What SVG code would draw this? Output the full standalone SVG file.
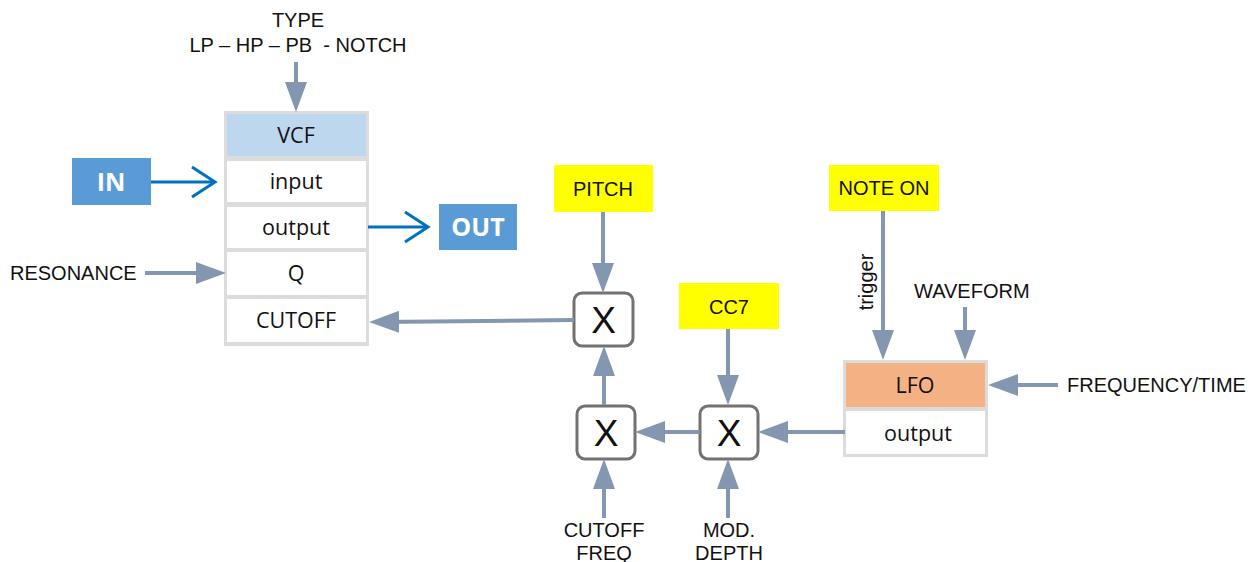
<svg xmlns="http://www.w3.org/2000/svg" width="1258" height="562" viewBox="0 0 1258 562">
  <style>
    .lbl { font-family: "Liberation Sans", Arial, sans-serif; font-size: 20px; fill: #111; }
    .cell { font-family: "Open Sans", "Noto Sans", sans-serif; font-size: 21.5px; fill: #111; }
    .io { font-family: "Open Sans", "Noto Sans", sans-serif; font-size: 25px; font-weight: bold; fill: #fff; }
    .mul { font-family: "Liberation Sans", Arial, sans-serif; font-size: 37px; fill: #111; }
    .frame { fill: #dcdcdc; }
    .white { fill: #fff; }
    .tag { fill: #ffff00; }
    .xbox { fill: #fff; stroke: #767171; stroke-width: 3; }
    .ctl { fill: none; stroke: #8497b0; stroke-width: 4; marker-end: url(#head); }
    .sig { fill: none; stroke: #0070c0; stroke-width: 3; marker-end: url(#chev); }
  </style>
  <defs>
    <marker id="head" markerUnits="userSpaceOnUse" markerWidth="30" markerHeight="22" refX="18" refY="11" orient="auto">
      <path d="M0,0 L30,11 L0,22 Z" fill="#8497b0"/>
    </marker>
    <marker id="chev" markerUnits="userSpaceOnUse" markerWidth="30" markerHeight="34" refX="25" refY="17" orient="auto">
      <path d="M2,2 L25,17 L2,32" fill="none" stroke="#0070c0" stroke-width="3"/>
    </marker>
  </defs>

  <!-- VCF module -->
  <g id="vcf">
    <rect class="frame" x="224" y="111" width="145" height="235"/>
    <rect x="227" y="114" width="139" height="42" fill="#bdd7ee"/>
    <rect class="white" x="227" y="161" width="139" height="41"/>
    <rect class="white" x="227" y="207" width="139" height="41"/>
    <rect class="white" x="227" y="252" width="139" height="43"/>
    <rect class="white" x="227" y="299" width="139" height="43"/>
    <text class="cell" x="296" y="143" text-anchor="middle">VCF</text>
    <text class="cell" x="296" y="189" text-anchor="middle">input</text>
    <text class="cell" x="296" y="235" text-anchor="middle">output</text>
    <text class="cell" x="296" y="281" text-anchor="middle">Q</text>
    <text class="cell" x="296" y="328" text-anchor="middle">CUTOFF</text>
  </g>

  <g id="in">
    <rect x="72" y="158" width="79" height="47" fill="#5b9bd5"/>
    <text class="io" x="111" y="191" text-anchor="middle">IN</text>
  </g>
  <g id="out">
    <rect x="439" y="204" width="78" height="46" fill="#5b9bd5"/>
    <text class="io" x="478" y="236" text-anchor="middle">OUT</text>
  </g>

  <g id="type">
    <text class="lbl" x="298" y="27" text-anchor="middle">TYPE</text>
    <text class="lbl" x="298" y="52" text-anchor="middle" xml:space="preserve">LP – HP – PB  - NOTCH</text>
  </g>
  <g id="resonance">
    <text class="lbl" x="10" y="280">RESONANCE</text>
  </g>

  <g id="pitch">
    <rect class="tag" x="554" y="165" width="99" height="47"/>
    <text class="lbl" x="603" y="196" text-anchor="middle">PITCH</text>
  </g>
  <g id="cc7">
    <rect class="tag" x="679" y="283" width="100" height="46"/>
    <text class="lbl" x="729" y="314" text-anchor="middle">CC7</text>
  </g>
  <g id="noteon">
    <rect class="tag" x="829" y="165" width="110" height="46"/>
    <text class="lbl" x="884" y="195" text-anchor="middle">NOTE ON</text>
  </g>

  <g id="mul1">
    <rect class="xbox" x="574" y="293" width="59" height="53" rx="8"/>
    <text class="mul" x="603.5" y="333" text-anchor="middle">X</text>
  </g>
  <g id="mul2">
    <rect class="xbox" x="577" y="406" width="58" height="53" rx="8"/>
    <text class="mul" x="606" y="446" text-anchor="middle">X</text>
  </g>
  <g id="mul3">
    <rect class="xbox" x="700" y="406" width="58" height="53" rx="8"/>
    <text class="mul" x="729" y="446" text-anchor="middle">X</text>
  </g>

  <g id="cutofffreq">
    <text class="lbl" x="604" y="537" text-anchor="middle">CUTOFF</text>
    <text class="lbl" x="604" y="560" text-anchor="middle">FREQ</text>
  </g>
  <g id="moddepth">
    <text class="lbl" x="729" y="537" text-anchor="middle">MOD.</text>
    <text class="lbl" x="729" y="560" text-anchor="middle">DEPTH</text>
  </g>

  <g id="lfo">
    <rect class="frame" x="843" y="360" width="145" height="97"/>
    <rect x="846" y="363" width="139" height="44" fill="#f4b183"/>
    <rect class="white" x="846" y="411" width="139" height="43"/>
    <text class="cell" x="915" y="393" text-anchor="middle">LFO</text>
    <text class="cell" x="918" y="441" text-anchor="middle">output</text>
  </g>
  <g id="waveform">
    <text class="lbl" x="914" y="298">WAVEFORM</text>
  </g>
  <g id="freqtime">
    <text class="lbl" x="1067" y="392">FREQUENCY/TIME</text>
  </g>

  <!-- connectors -->
  <g id="connectors">
    <path class="sig" d="M151,182 H215"/>
    <path class="sig" d="M368,227 H428"/>
    <path class="ctl" d="M296,62 V100"/>
    <path class="ctl" d="M145,273 H214"/>
    <path class="ctl" d="M574,320 L381,322"/>
    <path class="ctl" d="M603,212 V281"/>
    <path class="ctl" d="M604,405 V358"/>
    <path class="ctl" d="M700,432 H647"/>
    <path class="ctl" d="M845,432 H770"/>
    <path class="ctl" d="M728,329 V393"/>
    <path class="ctl" d="M604,518 V471"/>
    <path class="ctl" d="M728,518 V471"/>
    <path class="ctl" d="M883,211 V348"/>
    <path class="ctl" d="M965,307 V348"/>
    <path class="ctl" d="M1058,385 H1000"/>
    <text class="lbl" x="0" y="0" text-anchor="middle" transform="translate(873,282) rotate(-90)">trigger</text>
  </g>
</svg>
